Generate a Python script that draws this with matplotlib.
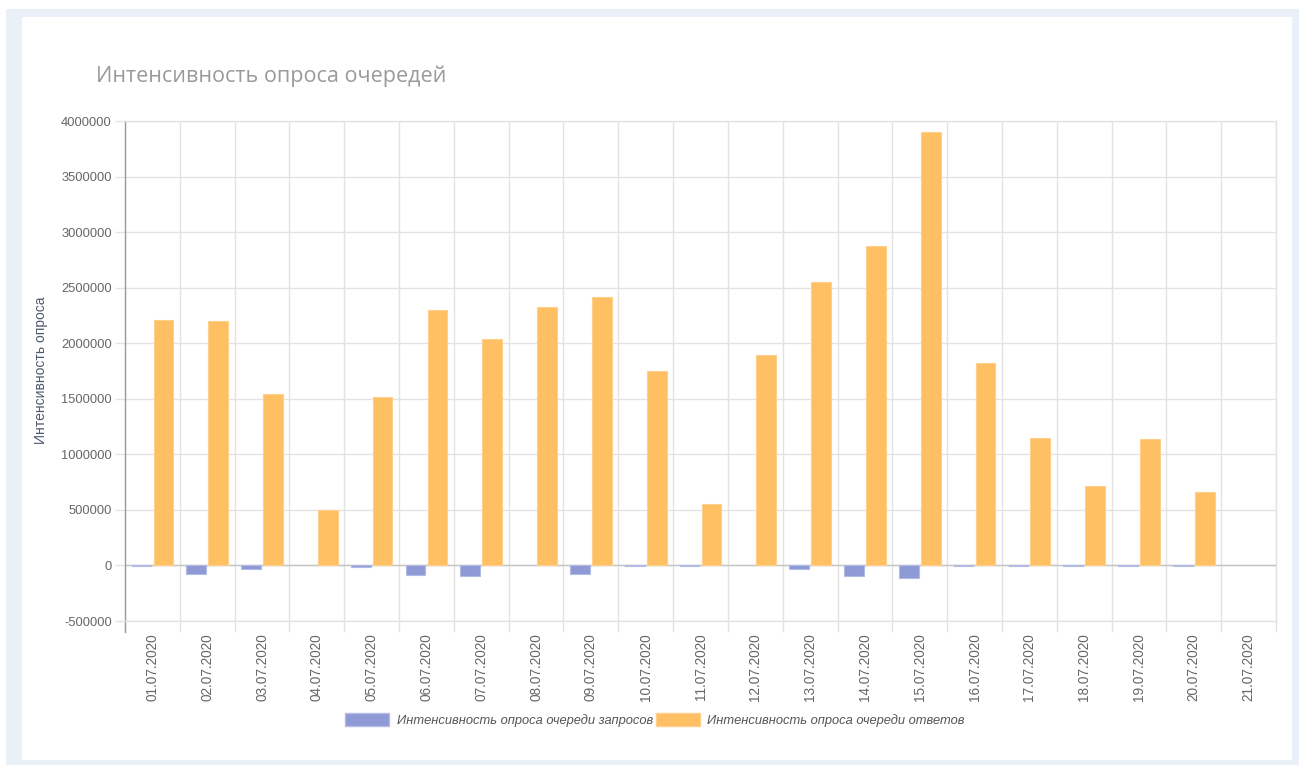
import matplotlib
matplotlib.use("Agg")
import matplotlib.pyplot as plt
from matplotlib.patches import Rectangle, Patch
import numpy as np

dates = ["01.07.2020", "02.07.2020", "03.07.2020", "04.07.2020", "05.07.2020",
         "06.07.2020", "07.07.2020", "08.07.2020", "09.07.2020", "10.07.2020",
         "11.07.2020", "12.07.2020", "13.07.2020", "14.07.2020", "15.07.2020",
         "16.07.2020", "17.07.2020", "18.07.2020", "19.07.2020", "20.07.2020",
         "21.07.2020"]
requests = [-5000, -75000, -30000, 0, -10000, -90000, -95000, 0, -75000, -4000,
            -4000, 0, -35000, -92000, -114000, -4000, -8000, -4000, -3000, -4000, 0]
responses = [2210000, 2200000, 1546000, 503000, 1519000, 2301000, 2040000, 2328000,
             2418000, 1753000, 557000, 1897000, 2553000, 2876000, 3901000, 1825000,
             1150000, 719000, 1142000, 665000, 0]
yticks = [-500000, 0, 500000, 1000000, 1500000, 2000000, 2500000, 3000000, 3500000, 4000000]

title = "Интенсивность опроса очередей"
ylabel = "Интенсивность опроса"
label_req = "Интенсивность опроса очереди запросов"
label_resp = "Интенсивность опроса очереди ответов"

W, H = 1305, 765
fig = plt.figure(figsize=(W / 100, H / 100), dpi=100)
fig.patch.set_facecolor("white")

def fx(px):
    return px / W

def fy(py):
    return 1 - py / H

# outer frame
fig.patches.append(Rectangle((fx(6), fy(765)), fx(1299) - fx(6), fy(9) - fy(765),
                             transform=fig.transFigure, facecolor="#e9f0f8",
                             edgecolor="none", zorder=-10))
fig.patches.append(Rectangle((fx(22), fy(760)), fx(1292) - fx(22), fy(17) - fy(760),
                             transform=fig.transFigure, facecolor="white",
                             edgecolor="none", zorder=-9))

ax = fig.add_axes([fx(125), fy(621), fx(1276) - fx(125), fy(121) - fy(621)])
ax.set_facecolor("none")

x = np.arange(len(dates))
bw = 0.36
lw_req = [0.8 if v != 0 else 0 for v in requests]
lw_resp = [0.8 if v != 0 else 0 for v in responses]
ax.bar(x - 0.2, requests, width=bw, color="#8e9ad6", edgecolor="#b3bbe4",
       linewidth=lw_req, zorder=3, label=label_req)
ax.bar(x + 0.2, responses, width=bw, color="#ffbf63", edgecolor="#ffd08c",
       linewidth=lw_resp, zorder=3, label=label_resp)

ax.set_xlim(-0.5, len(dates) - 0.5)
ax.set_ylim(-500000, 4000000)
ax.set_yticks(yticks)
ax.set_yticklabels([str(v) for v in yticks])

ax.set_xticks(x)
ax.set_xticklabels(dates, rotation=90, fontsize=9.8, color="#666666",
                   family="Liberation Sans")
ax.set_xticks(np.arange(-0.5, len(dates)), minor=True)
ax.tick_params(axis="x", which="major", length=0, pad=9)
ax.tick_params(axis="x", which="minor", length=8, color="#e3e3e3", width=1, direction="out")
ax.tick_params(axis="y", length=7.5, color="#e3e3e3", width=1, labelsize=9.3,
               labelcolor="#666666", pad=2)
for lab in ax.get_yticklabels():
    lab.set_family("Liberation Sans")

ax.grid(True, axis="y", color="#e3e3e3", linewidth=1, zorder=0)
ax.grid(True, axis="x", which="minor", color="#e3e3e3", linewidth=1, zorder=0)
ax.axhline(0, color="#c4c4c4", linewidth=1, zorder=2)

for s in ["top", "right", "bottom"]:
    ax.spines[s].set_color("#e3e3e3")
    ax.spines[s].set_linewidth(1)
ax.spines["left"].set_color("#9a9a9a")
ax.spines["left"].set_linewidth(1)
ax.spines["left"].set_bounds(-599000, 4000000)

fig.text(fx(96), fy(76), title, fontsize=15.5, color="#9a9a9a", family="Open Sans",
         ha="left", va="center")
fig.text(fx(41), fy(370), ylabel, fontsize=10, color="#4e5a6b", family="Liberation Sans",
         rotation=90, ha="center", va="center")

handles = [Patch(facecolor="#8e9ad6", edgecolor="#b3bbe4"),
           Patch(facecolor="#ffbf63", edgecolor="#ffd08c")]
leg = fig.legend(handles, [label_req, label_resp], loc="center",
                 bbox_to_anchor=(fx(655), fy(720)), ncol=2, frameon=False,
                 prop={"family": "Liberation Sans", "style": "italic", "size": 9.3},
                 handlelength=3.4, handleheight=1.1, handletextpad=0.55, columnspacing=0.25)
for t in leg.get_texts():
    t.set_color("#555555")

fig.savefig("out.png", dpi=100)
